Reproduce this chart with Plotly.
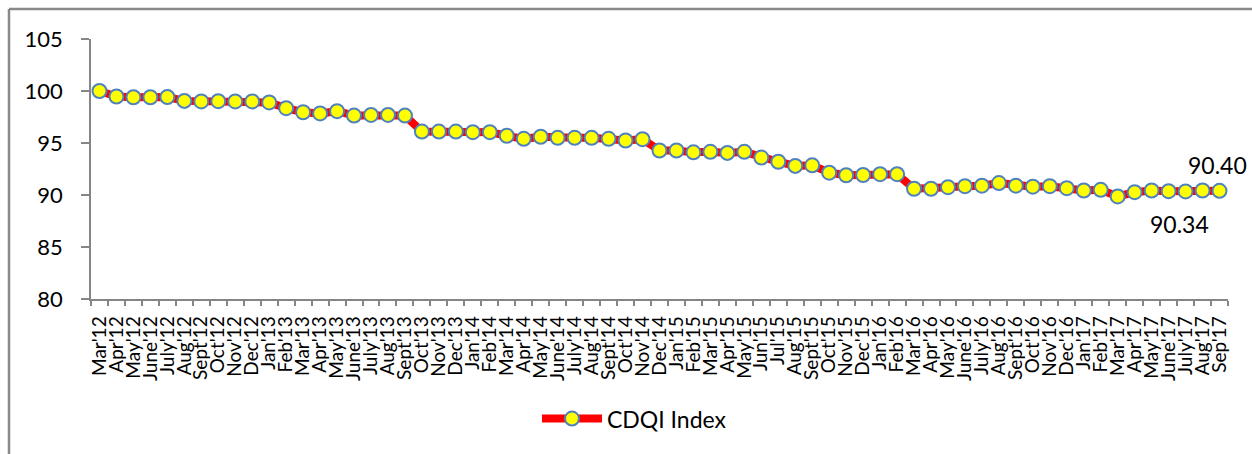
import plotly.graph_objects as go

months = ["Mar'12", "Apr'12", "May'12", "June'12", "July'12", "Aug'12", "Sept'12", "Oct'12", "Nov'12", "Dec'12",
          "Jan'13", "Feb'13", "Mar'13", "Apr'13", "May'13", "June'13", "July'13", "Aug'13", "Sept'13", "Oct'13",
          "Nov'13", "Dec'13", "Jan'14", "Feb'14", "Mar'14", "Apr'14", "May'14", "June'14", "July'14", "Aug'14",
          "Sept'14", "Oct'14", "Nov'14", "Dec'14", "Jan'15", "Feb'15", "Mar'15", "Apr'15", "May'15", "Jun'15",
          "Jul'15", "Aug'15", "Sept'15", "Oct'15", "Nov'15", "Dec'15", "Jan'16", "Feb'16", "Mar'16", "Apr'16",
          "May'16", "June'16", "July'16", "Aug'16", "Sept'16", "Oct'16", "Nov'16", "Dec'16", "Jan'17", "Feb'17",
          "Mar'17", "Apr'17", "May'17", "June'17", "July'17", "Aug'17", "Sep'17"]

cdqi_index = [100.00, 99.47, 99.40, 99.40, 99.42, 99.05, 99.00, 99.02, 99.00, 99.00,
              98.90, 98.35, 97.96, 97.84, 98.06, 97.64, 97.70, 97.70, 97.64, 96.10,
              96.10, 96.10, 96.04, 96.04, 95.70, 95.40, 95.60, 95.50, 95.50, 95.50,
              95.40, 95.24, 95.37, 94.28, 94.28, 94.10, 94.15, 94.05, 94.15, 93.60,
              93.20, 92.80, 92.85, 92.15, 91.90, 91.92, 92.00, 92.00, 90.60, 90.60,
              90.75, 90.85, 90.90, 91.15, 90.90, 90.80, 90.85, 90.66, 90.43, 90.50,
              89.86, 90.27, 90.43, 90.37, 90.34, 90.43, 90.40]

y_ticks = [80, 85, 90, 95, 100, 105]

FONT = "Lato"
AXIS = "#868686"
W, H = 1252, 454
ML, MR, MT, MB = 91, 24, 39, 155
PW, PH = W - ML - MR, H - MT - MB

fig = go.Figure()
fig.add_trace(go.Scatter(
    x=months, y=cdqi_index, mode="lines+markers", name="CDQI Index",
    line=dict(color="#FF0000", width=8),
    marker=dict(size=14, color="#FFFF00", line=dict(color="#4F81BD", width=2)),
    cliponaxis=False,
))

fig.add_annotation(x="Sep'17", y=cdqi_index[-1], text="90.40", showarrow=False,
                   xshift=-2, yshift=26, font=dict(family=FONT, size=23, color="#000000"))
fig.add_annotation(x="July'17", y=cdqi_index[64], text="90.34", showarrow=False,
                   xshift=-6, yshift=-33, font=dict(family=FONT, size=23, color="#000000"))

# outer chart border (left and top edges visible)
bx0 = (9 - ML) / PW
by1 = 1 + (MT - 9) / PH
border = dict(color="#898989", width=2.5)
fig.add_shape(type="line", xref="paper", yref="paper", x0=bx0, x1=(W + 20 - ML) / PW,
              y0=by1, y1=by1, line=border)
fig.add_shape(type="line", xref="paper", yref="paper", x0=bx0, x1=bx0,
              y0=by1, y1=-(H + 20 - MT - PH) / PH, line=border)

fig.update_layout(
    width=W, height=H,
    margin=dict(l=ML, r=MR, t=MT, b=MB, autoexpand=False),
    paper_bgcolor="white", plot_bgcolor="white",
    font=dict(family=FONT, color="#000000"),
    showlegend=True,
    legend=dict(orientation="h", x=0.478, xanchor="center", y=-0.46, yanchor="middle",
                font=dict(family=FONT, size=23), itemwidth=60, bgcolor="rgba(0,0,0,0)"),
    xaxis=dict(
        type="category", range=[-0.5, len(months) - 0.5], automargin=False,
        tickmode="array", tickvals=months, ticktext=months,
        tickangle=-90, tickson="boundaries", ticks="outside", ticklen=5, tickcolor=AXIS, tickwidth=1.5,
        showline=True, linecolor=AXIS, linewidth=1.5, showgrid=False, zeroline=False,
        tickfont=dict(family=FONT, size=19, color="#000000"), ticklabelstandoff=8,
    ),
    yaxis=dict(
        range=[80, 105], tickvals=y_ticks, ticks="outside", ticklen=8, tickcolor=AXIS, tickwidth=1.5,
        automargin=False,
        showline=True, linecolor=AXIS, linewidth=1.5, showgrid=False, zeroline=False,
        tickfont=dict(family=FONT, size=22, color="#000000"), ticklabelstandoff=14,
    ),
)

fig.write_html("out.html", config={"displayModeBar": False},
               post_script="document.body.style.margin='0';document.body.style.overflow='hidden';")
